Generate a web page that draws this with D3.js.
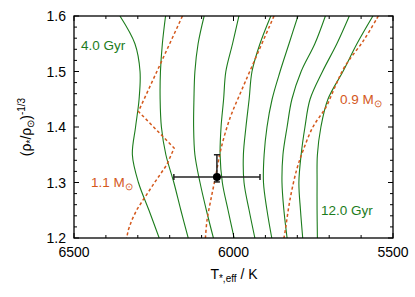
<!DOCTYPE html>
<html><head><meta charset="utf-8">
<script src="https://cdn.jsdelivr.net/npm/d3@7"></script>
<style>
html,body{margin:0;padding:0;background:#fff;}
svg{display:block;font-family:"Liberation Sans",Arial,sans-serif;}
</style></head>
<body>
<svg id="chart" width="415" height="297"></svg>
<script>
// ---- data ----
const rhoLevels = [1.60, 1.55, 1.50, 1.45, 1.40, 1.35, 1.30, 1.25, 1.20];
const ageLabels = ["4.0 Gyr", "5.0 Gyr", "6.0 Gyr", "7.0 Gyr", "8.0 Gyr", "9.0 Gyr", "10.0 Gyr", "11.0 Gyr", "12.0 Gyr"];
const teff4Gyr  = [6356, 6309, 6293, 6296, 6307, 6317, 6298, 6265, 6233];
const teff5Gyr  = [6213, 6223, 6229, 6230, 6226, 6212, 6187, 6165, 6142];
const teff6Gyr  = [6092, 6111, 6121, 6124, 6125, 6121, 6105, 6085, 6063];
const teff7Gyr  = [5983, 6003, 6024, 6031, 6039, 6042, 6035, 6017, 5998];
const teff8Gyr  = [5883, 5917, 5942, 5951, 5961, 5969, 5967, 5951, 5933];
const teff9Gyr  = [5798, 5826, 5854, 5879, 5895, 5904, 5906, 5895, 5880];
const teff10Gyr = [5712, 5745, 5788, 5817, 5832, 5845, 5848, 5842, 5832];
const teff11Gyr = [5637, 5676, 5721, 5760, 5776, 5788, 5795, 5790, 5783];
const teff12Gyr = [5563, 5613, 5657, 5704, 5726, 5737, 5738, 5738, 5737];

// evolutionary tracks (Teff, rho^-1/3)
const track11Teff = [6160, 6298, 6186, 6209, 6246, 6283, 6303, 6319, 6330, 6335];
const track11Rho  = [1.600, 1.428, 1.362, 1.332, 1.301, 1.269, 1.251, 1.232, 1.214, 1.200];
const track10Teff = [5873, 5974, 6011, 6040, 6055, 6071, 6083, 6088];
const track10Rho  = [1.600, 1.467, 1.416, 1.359, 1.314, 1.269, 1.232, 1.200];
const track09Teff = [5546, 5591, 5651, 5679, 5710, 5751, 5781, 5802, 5823, 5839, 5842];
const track09Rho  = [1.600, 1.557, 1.509, 1.476, 1.436, 1.400, 1.359, 1.323, 1.269, 1.209, 1.200];

// observed star
const starTeff = [6052];
const starTeffErr = [135];
const starRho = [1.310];
const starRhoErrUp = [0.040];
const starRhoErrDown = [0.009];

// axes
const xTicksMajor = [6500, 6000, 5500];
const yTicksMajor = [1.2, 1.3, 1.4, 1.5, 1.6];

// ---- drawing ----
const green = "#1c7c1c", orange = "#d4581c";
const svg = d3.select("#chart");
const L = 74, R = 393, T = 16, B = 238;
const x = d3.scaleLinear().domain([6500, 5500]).range([L, R]);
const y = d3.scaleLinear().domain([1.2, 1.6]).range([B, T]);

svg.append("clipPath").attr("id", "clip").append("rect")
  .attr("x", L).attr("y", T).attr("width", R - L).attr("height", B - T);
const plot = svg.append("g").attr("clip-path", "url(#clip)");

const isochrones = [teff4Gyr, teff5Gyr, teff6Gyr, teff7Gyr, teff8Gyr, teff9Gyr, teff10Gyr, teff11Gyr, teff12Gyr];
const line = d3.line().x(d => x(d[0])).y(d => y(d[1])).curve(d3.curveCatmullRom.alpha(0.5));
const lineLin = d3.line().x(d => x(d[0])).y(d => y(d[1]));

isochrones.forEach(arr => {
  plot.append("path")
    .attr("d", line(arr.map((t, i) => [t, rhoLevels[i]])))
    .attr("fill", "none").attr("stroke", green).attr("stroke-width", 1.1);
});

[[track11Teff, track11Rho, lineLin], [track10Teff, track10Rho, line], [track09Teff, track09Rho, line]].forEach(([tt, rr, gen]) => {
  plot.append("path")
    .attr("d", gen(tt.map((t, i) => [t, rr[i]])))
    .attr("fill", "none").attr("stroke", orange).attr("stroke-width", 1.5)
    .attr("stroke-dasharray", "3,2.5");
});

// error bars + point
const eb = svg.append("g").attr("stroke", "#222").attr("stroke-width", 1.5);
starTeff.forEach((t, i) => {
  const cx = x(t), cy = y(starRho[i]);
  const x0 = x(t + starTeffErr[i]), x1 = x(t - starTeffErr[i]);
  const y0 = y(starRho[i] - starRhoErrDown[i]), y1 = y(starRho[i] + starRhoErrUp[i]);
  eb.append("line").attr("x1", x0).attr("x2", x1).attr("y1", cy).attr("y2", cy);
  eb.append("line").attr("x1", x0).attr("x2", x0).attr("y1", cy - 3).attr("y2", cy + 3);
  eb.append("line").attr("x1", x1).attr("x2", x1).attr("y1", cy - 3).attr("y2", cy + 3);
  eb.append("line").attr("x1", cx).attr("x2", cx).attr("y1", y0).attr("y2", y1);
  eb.append("line").attr("x1", cx - 3).attr("x2", cx + 3).attr("y1", y0).attr("y2", y0);
  eb.append("line").attr("x1", cx - 3).attr("x2", cx + 3).attr("y1", y1).attr("y2", y1);
  svg.append("circle").attr("cx", cx).attr("cy", cy).attr("r", 4).attr("fill", "#000");
});

// frame & ticks
svg.append("rect").attr("x", L).attr("y", T).attr("width", R - L).attr("height", B - T)
  .attr("fill", "none").attr("stroke", "#000").attr("stroke-width", 1.3);

const xMinor = d3.range(6500, 5499, -100);
const yMinor = d3.range(1.2, 1.6001, 0.02);
const tk = svg.append("g").attr("stroke", "#000").attr("stroke-width", 1);
xMinor.forEach(v => {
  const len = xTicksMajor.includes(v) ? 5 : 3;
  tk.append("line").attr("x1", x(v)).attr("x2", x(v)).attr("y1", B).attr("y2", B - len);
  tk.append("line").attr("x1", x(v)).attr("x2", x(v)).attr("y1", T).attr("y2", T + len);
});
yMinor.forEach(v => {
  const major = yTicksMajor.some(m => Math.abs(m - v) < 1e-6);
  const len = major ? 5 : 3;
  tk.append("line").attr("y1", y(v)).attr("y2", y(v)).attr("x1", L).attr("x2", L + len);
  tk.append("line").attr("y1", y(v)).attr("y2", y(v)).attr("x1", R).attr("x2", R - len);
});

const lab = svg.append("g").attr("font-size", 14).attr("fill", "#000");
xTicksMajor.forEach(v => {
  lab.append("text").attr("x", x(v)).attr("y", 257).attr("text-anchor", "middle").text(v);
});
yTicksMajor.forEach(v => {
  lab.append("text").attr("x", 66).attr("y", y(v) + 5).attr("text-anchor", "end").text(d3.format(".1f")(v));
});

// x label
const xl = svg.append("text").attr("x", 234).attr("y", 279).attr("text-anchor", "middle").attr("font-size", 14);
xl.append("tspan").text("T");
xl.append("tspan").attr("font-size", 10).attr("dy", 3).text("*,eff");
xl.append("tspan").attr("dy", -3).text(" / K");

// y label
const yl = svg.append("text").attr("transform", "translate(31,127) rotate(-90)")
  .attr("text-anchor", "middle").attr("font-size", 14);
yl.append("tspan").text("(ρ");
yl.append("tspan").attr("font-size", 10).attr("dy", 3).text("*");
yl.append("tspan").attr("dy", -3).text("/ρ");
yl.append("tspan").attr("font-size", 10).attr("dy", 3).text("⊙");
yl.append("tspan").attr("dy", -3).text(")");
yl.append("tspan").attr("font-size", 10).attr("dy", -6).text("-1/3");

// annotations
svg.append("text").attr("x", 81).attr("y", 50).attr("fill", green).attr("font-size", 13.5).text(ageLabels[0]);
svg.append("text").attr("x", 321).attr("y", 215).attr("fill", green).attr("font-size", 13.5).text(ageLabels[8]);
function massLabel(px, py, txt) {
  const t = svg.append("text").attr("x", px).attr("y", py).attr("fill", orange).attr("font-size", 13.5);
  t.append("tspan").text(txt + " M");
  t.append("tspan").attr("font-size", 10).attr("dy", 3).text("⊙");
}
massLabel(91, 187, "1.1");
massLabel(340, 104, "0.9");
</script>
</body></html>
